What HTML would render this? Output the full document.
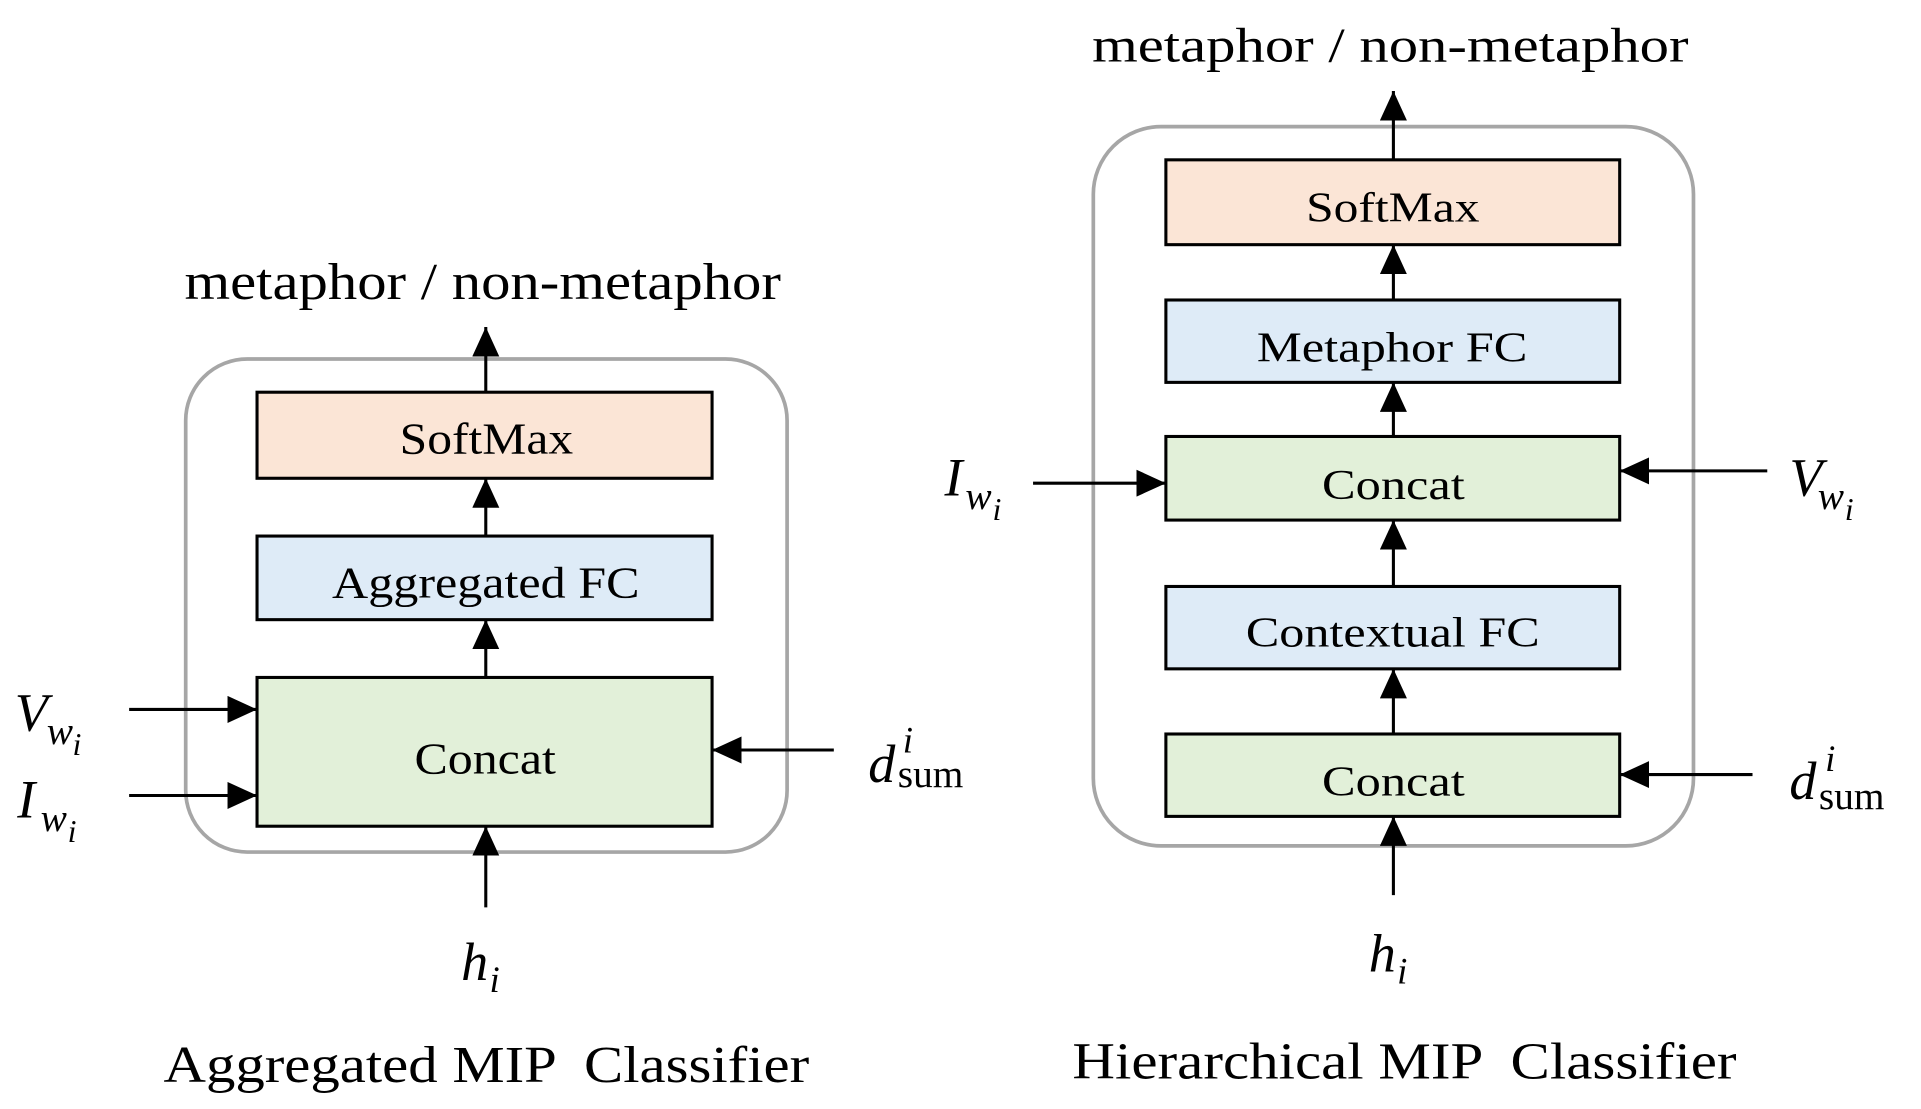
<!DOCTYPE html>
<html><head><meta charset="utf-8"><style>
html,body{margin:0;padding:0;background:#fff;}
svg{display:block;}
text{font-family:"Liberation Serif",serif;fill:#000;}
</style></head><body>
<svg width="1921" height="1109" viewBox="0 0 1562 902" preserveAspectRatio="none" xmlns="http://www.w3.org/2000/svg">
<defs>
<marker id="a" markerWidth="24" markerHeight="22" refX="24" refY="11" orient="auto" markerUnits="userSpaceOnUse" viewBox="0 0 24 22">
<path d="M0,0 L24,11 L0,22 z" fill="#000"/></marker>
</defs>
<!-- LEFT -->
<text x="150" y="243" font-size="42" textLength="485" lengthAdjust="spacingAndGlyphs">metaphor / non-metaphor</text>
<rect x="151" y="292" width="489" height="401" rx="50" fill="none" stroke="#a6a6a6" stroke-width="3"/>
<rect x="209" y="319" width="370" height="70" fill="#fbe5d6" stroke="#000" stroke-width="2.5"/>
<rect x="209" y="436" width="370" height="68" fill="#deebf7" stroke="#000" stroke-width="2.5"/>
<rect x="209" y="551" width="370" height="121" fill="#e2f0d9" stroke="#000" stroke-width="2.5"/>
<text x="325" y="369" font-size="36" textLength="141" lengthAdjust="spacingAndGlyphs">SoftMax</text>
<text x="270" y="486" font-size="36" textLength="250" lengthAdjust="spacingAndGlyphs">Aggregated FC</text>
<text x="337" y="629" font-size="36" textLength="115" lengthAdjust="spacingAndGlyphs">Concat</text>
<g stroke="#000" stroke-width="2.5" fill="none">
<line x1="395" y1="319" x2="395" y2="266" marker-end="url(#a)"/>
<line x1="395" y1="436" x2="395" y2="389" marker-end="url(#a)"/>
<line x1="395" y1="551" x2="395" y2="504" marker-end="url(#a)"/>
<line x1="395" y1="738" x2="395" y2="672" marker-end="url(#a)"/>
<line x1="105" y1="577" x2="209" y2="577" marker-end="url(#a)"/>
<line x1="105" y1="647" x2="209" y2="647" marker-end="url(#a)"/>
<line x1="678" y1="610" x2="579" y2="610" marker-end="url(#a)"/>
</g>
<text x="12" y="594" font-size="44" font-style="italic">V</text><text x="38" y="605" font-size="32" font-style="italic">w</text><text x="59" y="614" font-size="26" font-style="italic">i</text>
<text x="14" y="665" font-size="44" font-style="italic">I</text><text x="33" y="676" font-size="32" font-style="italic">w</text><text x="55" y="685" font-size="26" font-style="italic">i</text>
<text x="706" y="636" font-size="44" font-style="italic">d</text><text x="734" y="612" font-size="30" font-style="italic">i</text><text x="730" y="640" font-size="32">sum</text>
<text x="375" y="797" font-size="44" font-style="italic">h</text><text x="398" y="807" font-size="30" font-style="italic">i</text>
<text x="133" y="880" font-size="42" textLength="525" lengthAdjust="spacingAndGlyphs" xml:space="preserve">Aggregated MIP  Classifier</text>

<!-- RIGHT -->
<text x="888" y="50" font-size="40" textLength="485" lengthAdjust="spacingAndGlyphs">metaphor / non-metaphor</text>
<rect x="889" y="103" width="488" height="585" rx="55" fill="none" stroke="#a6a6a6" stroke-width="3"/>
<rect x="948" y="130" width="369" height="69" fill="#fbe5d6" stroke="#000" stroke-width="2.5"/>
<rect x="948" y="244" width="369" height="67" fill="#deebf7" stroke="#000" stroke-width="2.5"/>
<rect x="948" y="355" width="369" height="68" fill="#e2f0d9" stroke="#000" stroke-width="2.5"/>
<rect x="948" y="477" width="369" height="67" fill="#deebf7" stroke="#000" stroke-width="2.5"/>
<rect x="948" y="597" width="369" height="67" fill="#e2f0d9" stroke="#000" stroke-width="2.5"/>
<text x="1062" y="180" font-size="34" textLength="141" lengthAdjust="spacingAndGlyphs">SoftMax</text>
<text x="1022" y="294" font-size="34" textLength="220" lengthAdjust="spacingAndGlyphs">Metaphor FC</text>
<text x="1075" y="406" font-size="34" textLength="116" lengthAdjust="spacingAndGlyphs">Concat</text>
<text x="1013" y="526" font-size="34" textLength="239" lengthAdjust="spacingAndGlyphs">Contextual FC</text>
<text x="1075" y="647" font-size="34" textLength="116" lengthAdjust="spacingAndGlyphs">Concat</text>
<g stroke="#000" stroke-width="2.5" fill="none">
<line x1="1133" y1="130" x2="1133" y2="74" marker-end="url(#a)"/>
<line x1="1133" y1="244" x2="1133" y2="199" marker-end="url(#a)"/>
<line x1="1133" y1="355" x2="1133" y2="311" marker-end="url(#a)"/>
<line x1="1133" y1="477" x2="1133" y2="423" marker-end="url(#a)"/>
<line x1="1133" y1="597" x2="1133" y2="544" marker-end="url(#a)"/>
<line x1="1133" y1="728" x2="1133" y2="664" marker-end="url(#a)"/>
<line x1="840" y1="393" x2="948" y2="393" marker-end="url(#a)"/>
<line x1="1437" y1="383" x2="1317" y2="383" marker-end="url(#a)"/>
<line x1="1425" y1="630" x2="1317" y2="630" marker-end="url(#a)"/>
</g>
<text x="768" y="403" font-size="44" font-style="italic">I</text><text x="785" y="414" font-size="32" font-style="italic">w</text><text x="807" y="423" font-size="26" font-style="italic">i</text>
<text x="1455" y="403" font-size="44" font-style="italic">V</text><text x="1478" y="414" font-size="32" font-style="italic">w</text><text x="1500" y="423" font-size="26" font-style="italic">i</text>
<text x="1455" y="650" font-size="44" font-style="italic">d</text><text x="1484" y="627" font-size="30" font-style="italic">i</text><text x="1479" y="658" font-size="32">sum</text>
<text x="1113" y="790" font-size="44" font-style="italic">h</text><text x="1136" y="800" font-size="30" font-style="italic">i</text>
<text x="872" y="877" font-size="42" textLength="540" lengthAdjust="spacingAndGlyphs" xml:space="preserve">Hierarchical MIP  Classifier</text>
</svg>
</body></html>
